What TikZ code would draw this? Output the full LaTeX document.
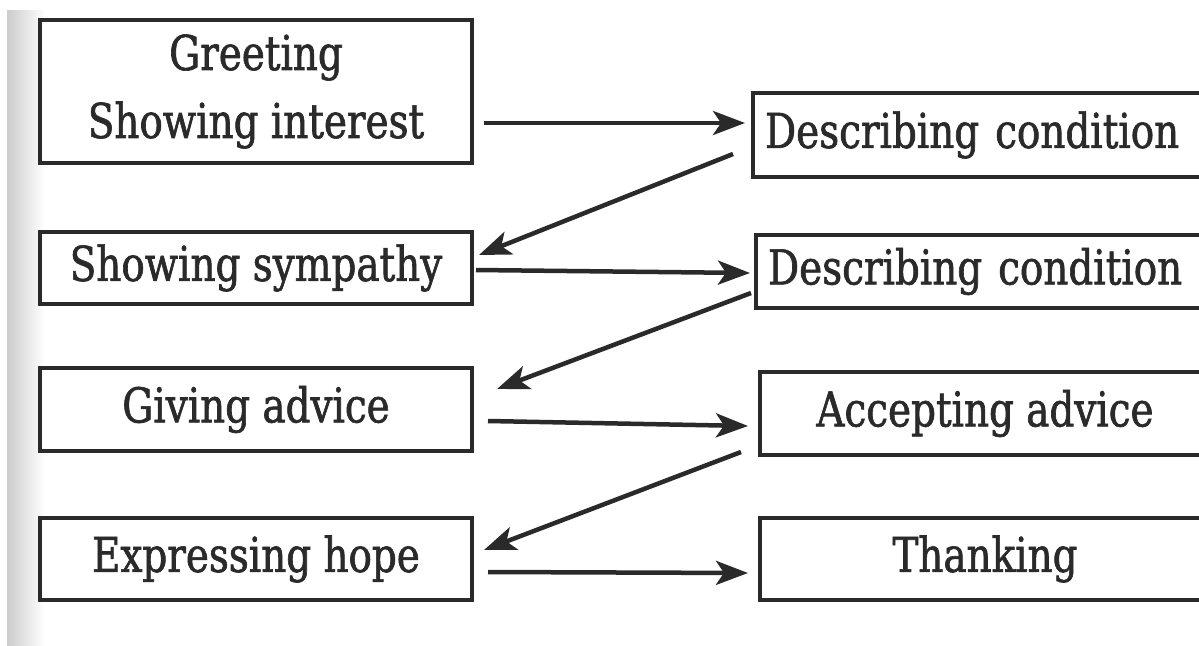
\documentclass[tikz,border=0pt]{standalone}
\usepackage{fontspec}
\usetikzlibrary{arrows.meta}
\newfontfamily\lblfont[FakeStretch=0.81,FakeBold=1.3]{DejaVu Serif}
\definecolor{ink}{HTML}{2A2A2A}
\begin{document}
\begin{tikzpicture}[x=1pt,y=-1pt,
  box/.style={draw=ink,line width=4pt,rectangle,inner sep=0pt,text=ink,
    font=\lblfont\fontsize{48}{68}\selectfont,align=center},
  rbox/.style={box,align=left,inner xsep=12pt},
  conn/.style={draw=ink,line width=4.5pt,-{Stealth[length=32pt,width=24pt,inset=8pt]}}]
\useasboundingbox (0,0) rectangle (1199,645);
\fill[white] (0,0) rectangle (1199,645);
\shade[left color=black!20,right color=white] (7,10) rectangle (45,645);
% left column
\node[box,minimum width=432pt,minimum height=143pt] (b1) at (256,91.5) {Greeting\\Showing interest};
\node[box,minimum width=432pt,minimum height=72pt] (b2) at (256,268) {Showing sympathy};
\node[box,minimum width=432pt,minimum height=83pt] (b3) at (256,409.5) {Giving advice};
\node[box,minimum width=432pt,minimum height=82pt] (b4) at (256,559) {Expressing hope};
% right column
\node[rbox,text width=433pt,minimum height=84pt] (r1) at (981.5,135) {Describing condition};
\node[rbox,text width=430pt,minimum height=73pt] (r2) at (983,271.5) {Describing condition};
\node[box,minimum width=450pt,minimum height=83pt] (r3) at (985,413.5) {Accepting advice};
\node[box,minimum width=450pt,minimum height=82pt] (r4) at (985,559) {Thanking};
% connectors
\draw[conn] ([xshift=10pt,yshift=-31.5pt]b1.east) -- ([xshift=-6pt,yshift=12pt]r1.west);
\draw[conn] ([xshift=-18pt,yshift=-19pt]r1.west) -- ([xshift=5pt,yshift=13pt]b2.east);
\draw[conn] ([xshift=2pt,yshift=-2pt]b2.east) -- ([xshift=-4pt,yshift=-1.5pt]r2.west);
\draw[conn] ([xshift=-3pt,yshift=-21.5pt]r2.west) -- ([xshift=23pt,yshift=20.5pt]b3.east);
\draw[conn] ([xshift=14pt,yshift=-11.5pt]b3.east) -- ([xshift=-10pt,yshift=-12.5pt]r3.west);
\draw[conn] ([xshift=-17pt,yshift=-38.5pt]r3.west) -- ([xshift=10pt,yshift=9pt]b4.east);
\draw[conn] ([xshift=14pt,yshift=-13pt]b4.east) -- ([xshift=-10pt,yshift=-14pt]r4.west);
\end{tikzpicture}
\end{document}
